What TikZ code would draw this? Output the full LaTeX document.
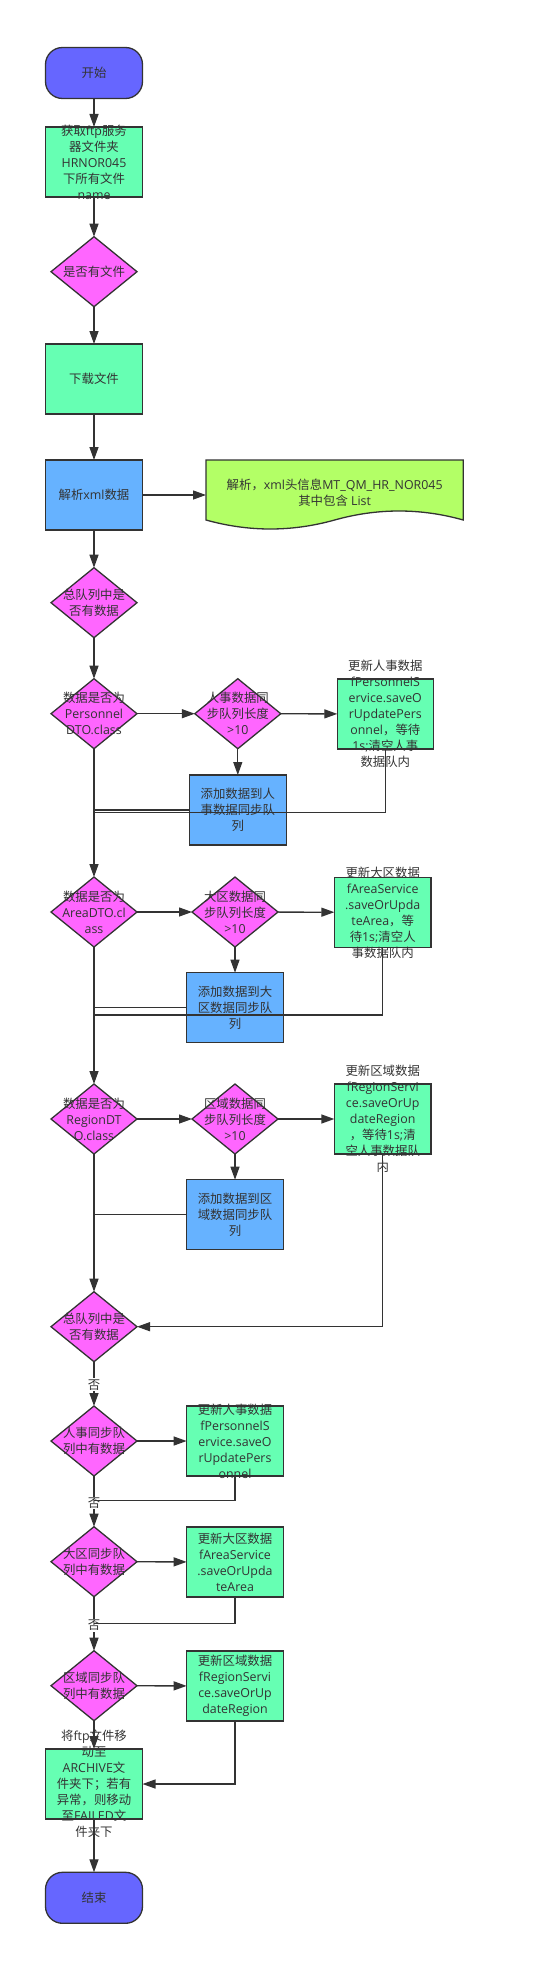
\documentclass[tikz,border=0pt]{standalone}
\usepackage{fontspec}
\setmainfont{Open Sans}
\newfontfamily\cjkf{Noto Sans CJK SC}
\newcommand\C[1]{{\cjkf #1}}
\usetikzlibrary{arrows.meta,shapes.geometric}
\definecolor{edgec}{HTML}{333333}
\definecolor{textc}{HTML}{333333}
\definecolor{termc}{HTML}{6666FF}
\definecolor{greenc}{HTML}{66FFB3}
\definecolor{magc}{HTML}{FF66FF}
\definecolor{bluec}{HTML}{66B2FF}
\definecolor{limec}{HTML}{B3FF66}
\begin{document}
\begin{tikzpicture}[x=1pt,y=-1pt,
  shp/.style={draw=edgec, line width=1.3pt, inner sep=0pt, outer sep=0pt},
  gbox/.style={shp, rectangle, fill=greenc, minimum width=96.7pt, minimum height=70pt},
  bbox/.style={shp, rectangle, fill=bluec, minimum width=96.7pt, minimum height=70pt},
  dia/.style={shp, diamond, fill=magc, minimum width=86pt, minimum height=70pt},
  termbox/.style={shp, rectangle, rounded corners=17pt, fill=termc, minimum width=97pt, minimum height=51pt},
  txt/.style={align=center, text=textc, font=\fontsize{12.4}{16}\selectfont, inner sep=0pt},
  arr/.style={draw=edgec, line width=1.3pt, -{Triangle[length=13pt,width=9pt]}},
  ln/.style={draw=edgec, line width=1.3pt},
  lbl/.style={txt, fill=white, inner sep=1pt}
]
\useasboundingbox (0,0) rectangle (545,1985);

% ---------- shapes ----------
\node[termbox] (start) at (94,73) {};
\node[gbox, minimum width=97pt] (b1) at (94,162) {};
\node[dia] (q1) at (94,271.7) {};
\node[gbox, minimum width=97pt] (b2) at (94,379) {};
\node[bbox, minimum width=97pt] (b3) at (94,495) {};
% note (document shape)
\node[inner sep=0pt, outer sep=0pt, minimum width=257.3pt, minimum height=60pt] (note) at (334.65,490) {};
\draw[fill=limec, draw=edgec, line width=1.3pt]
  (206,460) -- (463.3,460) -- (463.3,520)
  .. controls (420.4,508) and (377.6,508) .. (334.65,520)
  .. controls (291.8,532) and (248.9,532) .. (206,520) -- cycle;

\node[dia] (q2) at (94,602.7) {};
\node[dia] (d1) at (94,713.7) {};
\node[dia] (e1) at (237.8,713.7) {};
\node[gbox, minimum width=96pt] (g1) at (385.3,714) {};
\node[bbox] (a1) at (237.8,810) {};

\node[dia] (d2) at (94,912) {};
\node[dia] (e2) at (235,912) {};
\node[gbox] (g2) at (382.7,912.3) {};
\node[bbox] (a2) at (235,1007.7) {};

\node[dia] (d3) at (94,1119) {};
\node[dia] (e3) at (235,1119) {};
\node[gbox] (g3) at (382.7,1119) {};
\node[bbox] (a3) at (235,1214.7) {};

\node[dia] (q3) at (94,1326.7) {};
\node[dia] (p1) at (94,1441) {};
\node[gbox] (u1) at (235,1441) {};
\node[dia] (p2) at (94,1561.7) {};
\node[gbox] (u2) at (235,1562) {};
\node[dia] (p3) at (94,1685.7) {};
\node[gbox] (u3) at (235,1686) {};
\node[gbox, minimum width=97pt] (fin) at (94,1784) {};
\node[termbox] (stop) at (94,1897.8) {};

% ---------- texts ----------
\node[txt] at (start) {\C{开始}};
\node[txt] at (b1) {\C{获取}ftp\C{服务}\\\C{器文件夹}\\HRNOR045\\\C{下所有文件}\\name};
\node[txt] at (q1) {\C{是否有文件}};
\node[txt] at (b2) {\C{下载文件}};
\node[txt] at (b3) {\C{解析}xml\C{数据}};
\node[txt] at (334.65,492.5) {\C{解析，}xml\C{头信息}MT\_QM\_HR\_NOR045\\\C{其中包含} List};
\node[txt] at (q2) {\C{总队列中是}\\\C{否有数据}};
\node[txt] at (d1) {\C{数据是否为}\\Personnel\\DTO.class};
\node[txt] at (e1) {\C{人事数据同}\\\C{步队列长度}\\>10};
\node[txt] at (g1) {\C{更新人事数据}\\fPersonnelS\\ervice.saveO\\rUpdatePers\\onnel\C{，等待}\\1s;\C{清空人事}\\\C{数据队内}};
\node[txt] at (a1) {\C{添加数据到人}\\\C{事数据同步队}\\\C{列}};
\node[txt] at (d2) {\C{数据是否为}\\AreaDTO.cl\\ass};
\node[txt] at (e2) {\C{大区数据同}\\\C{步队列长度}\\>10};
\node[txt] at (g2) {\C{更新大区数据}\\fAreaService\\.saveOrUpda\\teArea\C{，等}\\\C{待}1s;\C{清空人}\\\C{事数据队内}};
\node[txt] at (a2) {\C{添加数据到大}\\\C{区数据同步队}\\\C{列}};
\node[txt] at (d3) {\C{数据是否为}\\RegionDT\\O.class};
\node[txt] at (e3) {\C{区域数据同}\\\C{步队列长度}\\>10};
\node[txt] at (g3) {\C{更新区域数据}\\fRegionServi\\ce.saveOrUp\\dateRegion\\\C{，等待}1s;\C{清}\\\C{空人事数据队}\\\C{内}};
\node[txt] at (a3) {\C{添加数据到区}\\\C{域数据同步队}\\\C{列}};
\node[txt] at (q3) {\C{总队列中是}\\\C{否有数据}};
\node[txt] at (p1) {\C{人事同步队}\\\C{列中有数据}};
\node[txt] at (u1) {\C{更新人事数据}\\fPersonnelS\\ervice.saveO\\rUpdatePers\\onnel};
\node[txt] at (p2) {\C{大区同步队}\\\C{列中有数据}};
\node[txt] at (u2) {\C{更新大区数据}\\fAreaService\\.saveOrUpda\\teArea};
\node[txt] at (p3) {\C{区域同步队}\\\C{列中有数据}};
\node[txt] at (u3) {\C{更新区域数据}\\fRegionServi\\ce.saveOrUp\\dateRegion};
\node[txt] at (fin) {\C{将}ftp\C{文件移}\\\C{动至}\\ARCHIVE\C{文}\\\C{件夹下；若有}\\\C{异常，则移动}\\\C{至}FAILED\C{文}\\\C{件夹下}};
\node[txt] at (stop) {\C{结束}};

% ---------- connectors ----------
\coordinate (j1) at (94,812.7);
\coordinate (j2) at (94,1015);
\coordinate (j4) at (94,1500.7);
\coordinate (j5) at (94,1623.3);

\draw[arr] (start) -- (b1);
\draw[arr] (b1) -- (q1);
\draw[arr] (q1) -- (b2);
\draw[arr] (b2) -- (b3);
\draw[arr] (b3.east) -- (b3.east -| note.west);
\draw[arr] (b3) -- (q2);
\draw[arr] (q2) -- (d1);

\draw[arr] (d1) -- (e1);
\draw[arr] (e1) -- (g1);
\draw[arr] (e1) -- (a1);
\draw[arr] (d1) -- (d2);
\draw[ln] (a1.west) -- (a1.west -| d1.south);
\draw[ln] (g1.south) |- (j1);

\draw[arr] (d2) -- (e2);
\draw[arr] (e2) -- (g2);
\draw[arr] (e2) -- (a2);
\draw[arr] (d2) -- (d3);
\draw[ln] (a2.west) -- (a2.west -| d2.south);
\draw[ln] (g2.south) |- (j2);

\draw[arr] (d3) -- (e3);
\draw[arr] (e3) -- (g3);
\draw[arr] (e3) -- (a3);
\draw[arr] (d3) -- (q3);
\draw[ln] (a3.west) -- (a3.west -| d3.south);
\draw[arr] (g3.south) |- (q3.east);

\draw[arr] (q3) -- node[lbl, pos=0.52] {\C{否}} (p1);
\draw[arr] (p1) -- (u1);
\draw[arr] (p1) -- node[lbl, pos=0.53] {\C{否}} (p2);
\draw[ln] (u1.south) |- (j4);
\draw[arr] (p2) -- (u2);
\draw[arr] (p2) -- node[lbl, pos=0.53] {\C{否}} (p3);
\draw[ln] (u2.south) |- (j5);
\draw[arr] (p3) -- (u3);
\draw[arr] (p3) -- (fin);
\draw[arr] (u3.south) |- (fin.east);
\draw[arr] (fin) -- (stop);
\end{tikzpicture}
\end{document}
